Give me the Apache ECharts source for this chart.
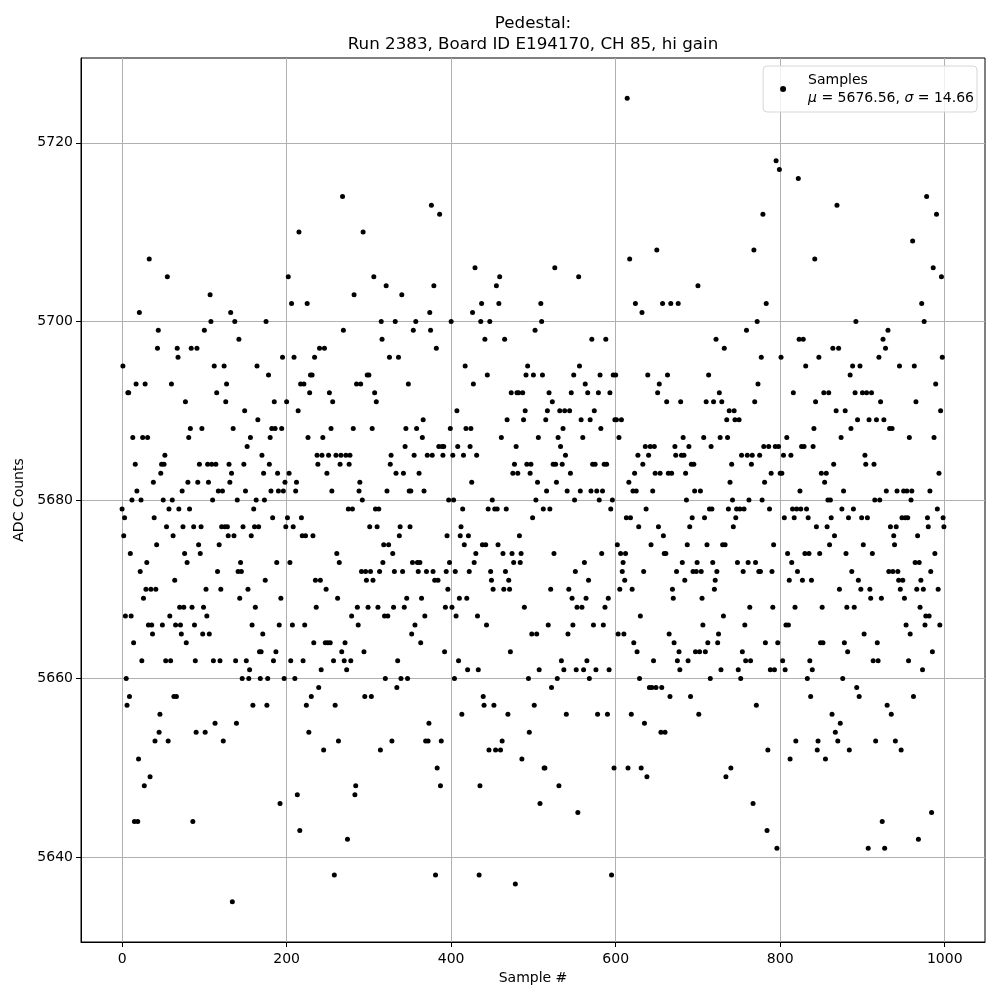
<!DOCTYPE html>
<html><head><meta charset="utf-8">
<script src="https://cdn.jsdelivr.net/npm/echarts@6/dist/echarts.min.js"></script>
<style>html,body{margin:0;padding:0;background:#fff}#c{width:1000px;height:1000px}</style>
</head><body><div id="c"></div>
<script>
// ADC counts, in sample order (50 samples per block)
const block00 = [5679,5695,5676,5678,5667,5660,5657,5692,5692,5658,5674,5667,5680,5687,5664,5644,5684,5693,5681,5644,5651,5701,5672,5680,5662,5687,5669,5648,5693,5670,5673,5687,5666,5707,5649,5670,5666,5665,5682,5678,5653,5670,5675,5697,5699,5654,5656,5683,5684,5666];
const block01 = [5680,5684,5685,5662,5677,5705,5653,5679,5667,5662,5693,5680,5676,5658,5671,5666,5658,5697,5696,5679,5668,5666,5665,5681,5677,5668,5674,5691,5664,5673,5682,5687,5679,5688,5697,5668,5644,5677,5666,5662,5654,5697,5682,5675,5684,5674,5677,5688,5665,5668];
const block02 = [5699,5654,5670,5667,5684,5682,5665,5703,5700,5684,5680,5662,5695,5655,5684,5692,5672,5681,5675,5662,5670,5677,5681,5653,5695,5677,5691,5693,5677,5676,5684,5682,5701,5683,5635,5688,5676,5700,5662,5655,5680,5672,5698,5669,5673,5672,5660,5677,5684,5690];
const block03 = [5681,5662,5686,5670,5660,5661,5687,5676,5666,5657,5679,5677,5668,5680,5695,5689,5677,5663,5660,5663,5685,5665,5683,5680,5671,5700,5657,5660,5694,5684,5687,5681,5688,5678,5662,5691,5688,5663,5673,5683,5681,5666,5646,5669,5688,5696,5681,5660,5682,5677];
const block04 = [5691,5678,5705,5683,5673,5662,5702,5666,5677,5696,5660,5681,5682,5647,5690,5710,5643,5693,5678,5676,5662,5693,5666,5676,5657,5702,5687,5654,5692,5694,5658,5694,5676,5664,5696,5671,5668,5685,5684,5659,5697,5671,5661,5685,5687,5652,5697,5664,5670,5683];
const block05 = [5664,5685,5692,5664,5688,5681,5691,5662,5638,5657,5685,5674,5669,5653,5673,5684,5685,5663,5714,5699,5662,5664,5685,5661,5642,5679,5684,5685,5662,5667,5679,5688,5703,5647,5648,5693,5668,5666,5681,5682,5693,5672,5680,5710,5663,5658,5672,5671,5694,5668];
const block06 = [5694,5677,5672,5658,5688,5671,5705,5692,5679,5691,5677,5668,5679,5672,5652,5700,5698,5673,5675,5667,5660,5704,5681,5667,5675,5696,5684,5685,5653,5674,5668,5672,5700,5683,5659,5662,5696,5676,5677,5660,5703,5672,5683,5668,5686,5688,5669,5660,5693,5681];
const block07 = [5677,5681,5665,5673,5699,5685,5666,5700,5688,5673,5672,5683,5673,5664,5669,5687,5689,5681,5667,5653,5672,5685,5653,5655,5701,5699,5713,5685,5672,5704,5671,5638,5697,5650,5671,5686,5712,5648,5653,5686,5685,5686,5663,5668,5672,5676,5670,5680,5673,5688];
const block08 = [5700,5668,5685,5680,5660,5672,5667,5690,5686,5662,5669,5676,5677,5656,5679,5685,5675,5695,5688,5669,5661,5676,5672,5686,5688,5682,5701,5693,5673,5706,5674,5685,5667,5661,5638,5648,5700,5702,5675,5658,5657,5698,5675,5666,5694,5679,5652,5700,5672,5671];
const block09 = [5680,5670,5657,5679,5652,5704,5679,5675,5702,5705,5652,5687,5653,5674,5670,5698,5672,5679,5689,5656,5671,5670,5663,5692,5674,5683,5673,5684,5637,5686,5692,5683,5692,5676,5673,5674,5651,5692,5689,5668,5690,5694,5684,5695,5660,5654,5683,5684,5665,5678];
const block10 = [5694,5657,5699,5680,5665,5682,5687,5661,5646,5702,5700,5694,5679,5650,5650,5689,5681,5690,5666,5692,5679,5670,5659,5691,5684,5674,5706,5684,5682,5660,5687,5648,5690,5686,5662,5684,5688,5661,5690,5685,5656,5681,5665,5670,5690,5683,5692,5669,5666,5694];
const block11 = [5680,5672,5661,5668,5645,5705,5695,5681,5689,5668,5687,5661,5673,5693,5669,5662,5692,5671,5660,5689,5681,5698,5684,5666,5690,5684,5661,5681,5656,5692,5680,5694,5688,5674,5681,5666,5684,5668,5698,5684,5656,5669,5661,5692,5679,5638,5680,5694,5650,5689];
const block12 = [5694,5689,5675,5665,5687,5670,5674,5689,5672,5673,5665,5671,5674,5678,5725,5650,5682,5707,5678,5656,5670,5681,5664,5683,5702,5681,5663,5685,5677,5660,5667,5650,5701,5684,5672,5655,5686,5679,5649,5694,5685,5659,5686,5675,5659,5681,5662,5686,5683,5659];
const block13 = [5708,5692,5677,5693,5683,5654,5659,5702,5676,5674,5654,5674,5691,5694,5683,5665,5658,5702,5683,5670,5669,5664,5686,5685,5672,5662,5702,5663,5661,5691,5685,5673,5687,5685,5671,5683,5680,5675,5662,5686,5677,5658,5684,5678,5672,5684,5681,5663,5672,5673];
const block14 = [5704,5656,5663,5681,5672,5669,5666,5687,5678,5663,5691,5675,5664,5694,5679,5660,5686,5679,5673,5691,5670,5671,5698,5672,5664,5665,5692,5687,5661,5691,5675,5667,5697,5675,5649,5689,5687,5679,5690,5682,5650,5684,5680,5677,5690,5689,5678,5679,5673,5661];
const block15 = [5689,5679,5660,5685,5663,5672,5679,5666,5662,5699,5685,5673,5680,5668,5662,5684,5685,5646,5708,5691,5673,5657,5700,5693,5672,5685,5672,5696,5680,5712,5686,5682,5664,5702,5643,5652,5686,5679,5661,5683,5672,5668,5675,5661,5686,5718,5641,5664,5686,5717];
const block16 = [5683,5696,5683,5662,5685,5678,5661,5666,5687,5674,5666,5671,5651,5685,5673,5679,5692,5678,5668,5653,5679,5672,5716,5698,5681,5679,5686,5671,5698,5686,5674,5695,5679,5660,5678,5674,5662,5658,5671,5661,5686,5688,5707,5691,5677,5652,5653,5696,5674,5664];
const block17 = [5683,5668,5664,5692,5682,5651,5683,5677,5680,5692,5675,5680,5678,5656,5697,5684,5676,5654,5690,5713,5653,5697,5670,5655,5687,5679,5660,5681,5664,5690,5674,5668,5663,5678,5652,5694,5688,5672,5695,5679,5668,5692,5700,5659,5689,5671,5658,5695,5670,5678];
const block18 = [5692,5675,5665,5685,5684,5692,5678,5641,5689,5670,5669,5692,5674,5662,5684,5680,5653,5689,5664,5662,5696,5680,5691,5669,5644,5698,5689,5641,5697,5681,5657,5699,5672,5688,5677,5656,5688,5672,5676,5675,5653,5677,5681,5672,5671,5695,5670,5652,5678,5671];
const block19 = [5681,5669,5678,5666,5681,5678,5662,5687,5665,5680,5681,5709,5658,5695,5673,5691,5670,5676,5642,5673,5668,5671,5702,5661,5670,5700,5666,5667,5714,5678,5677,5667,5681,5672,5645,5663,5706,5687,5674,5693,5712,5679,5670,5683,5666,5690,5705,5696,5678,5677];

const xTickValues = [0, 200, 400, 600, 800, 1000];
const yTickValues = [5640, 5660, 5680, 5700, 5720];
const titleLines = ['Pedestal:', 'Run 2383, Board ID E194170, CH 85, hi gain'];
const seriesName = 'Samples';
const meanText = '5676.56';
const sigmaText = '14.66';

const blocks = [block00,block01,block02,block03,block04,block05,block06,block07,block08,block09,
  block10,block11,block12,block13,block14,block15,block16,block17,block18,block19];
const adcCounts = [].concat(...blocks);
const points = adcCounts.map((v, i) => [i, v]);

const FONT = 'DejaVu Sans';
const chart = echarts.init(document.getElementById('c'), null, {renderer: 'canvas'});
chart.setOption({
  animation: false,
  backgroundColor: '#fff',
  graphic: [{
    type: 'text', x: 533, y: 13,
    style: {text: titleLines.join('\n'), font: '16.7px "DejaVu Sans"', fill: '#000', align: 'center', lineHeight: 21}
  }],
  grid: {left: 81, right: 15, top: 58, bottom: 58, show: true, borderColor: '#000', borderWidth: 1, backgroundColor: '#fff'},
  legend: {
    right: 23, top: 66, orient: 'vertical',
    data: [seriesName],
    icon: 'circle', itemWidth: 6, itemHeight: 6,
    padding: [5, 3, 5, 17],
    borderColor: '#d6d6d6', borderWidth: 1, borderRadius: 4,
    backgroundColor: 'rgba(255,255,255,0.8)',
    formatter: () => '{sp|}{t|' + seriesName + '}\n{sp|}{i|μ}{t| = ' + meanText + ', }{i|σ}{t| = ' + sigmaText + '}',
    textStyle: {
      color: '#000', fontFamily: FONT, fontSize: 14, lineHeight: 18,
      rich: {
        sp: {width: 17, lineHeight: 18},
        t: {fontFamily: FONT, fontSize: 14, color: '#000', lineHeight: 18},
        i: {fontFamily: FONT, fontSize: 14, fontStyle: 'italic', color: '#000', lineHeight: 18}
      }
    }
  },
  xAxis: {
    type: 'value', min: -49.95, max: 1048.95,
    name: 'Sample #', nameLocation: 'middle', nameGap: 28,
    nameTextStyle: {fontFamily: FONT, fontSize: 14, color: '#000'},
    axisLine: {show: true, onZero: false, lineStyle: {color: '#000', width: 1}},
    axisTick: {show: true, length: 5, inside: false, customValues: xTickValues, lineStyle: {color: '#000', width: 1}},
    axisLabel: {customValues: xTickValues, formatter: v => String(v), color: '#000', fontFamily: FONT, fontSize: 14, margin: 10},
    splitLine: {show: true, lineStyle: {color: '#b0b0b0', width: 1}}
  },
  yAxis: {
    type: 'value', min: 5630.5, max: 5729.5,
    name: 'ADC Counts', nameLocation: 'middle', nameGap: 45, nameRotate: 90,
    nameTextStyle: {fontFamily: FONT, fontSize: 14, color: '#000'},
    axisLine: {show: true, onZero: false, lineStyle: {color: '#000', width: 1}},
    axisTick: {show: true, length: 5, inside: false, customValues: yTickValues, lineStyle: {color: '#000', width: 1}},
    axisLabel: {customValues: yTickValues, formatter: v => String(v), color: '#000', fontFamily: FONT, fontSize: 14, margin: 8},
    splitLine: {show: true, lineStyle: {color: '#b0b0b0', width: 1}}
  },
  series: [{
    name: seriesName, type: 'scatter', data: points,
    symbol: 'circle', symbolSize: 5,
    itemStyle: {color: '#000', opacity: 1},
    emphasis: {disabled: true}
  }]
});
</script></body></html>
